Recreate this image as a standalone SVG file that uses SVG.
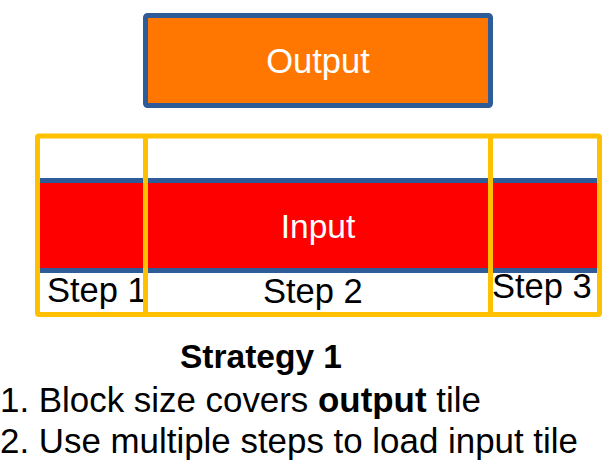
<svg xmlns="http://www.w3.org/2000/svg" width="614" height="474" viewBox="0 0 614 474">
<style>
  text { font-family: "Liberation Sans", Arial, sans-serif; }
  .lbl { font-size: 34.5px; fill: #000; }
  .wlbl { fill: #fff; text-anchor: middle; }
  .frame { fill: none; stroke: #FFC000; stroke-width: 5; }
  .body { font-size: 34.9px; fill: #000; }
</style>
<rect width="614" height="474" fill="#fff"/>
<g id="output">
  <rect x="145.5" y="15.5" width="345" height="90" rx="2" fill="#FF7700" stroke="#2E5C99" stroke-width="5"/>
  <text class="wlbl" x="318" y="73" font-size="34.5">Output</text>
</g>
<g id="input">
  <rect x="37.5" y="180.5" width="562" height="90" fill="#FF0000" stroke="#2E5C99" stroke-width="5"/>
  <text class="wlbl" x="318" y="237.5" font-size="33.5">Input</text>
</g>
<g id="step1">
  <rect class="frame" x="37.5" y="136" width="108" height="178.5" rx="1.5"/>
  <text class="lbl" x="47" y="301.7">Step 1</text>
</g>
<g id="step2">
  <rect class="frame" x="145.5" y="136" width="345" height="178.5" rx="1.5"/>
  <text class="lbl" x="263" y="303">Step 2</text>
</g>
<g id="step3">
  <rect class="frame" x="490.5" y="136" width="109" height="178.5" rx="1.5"/>
  <text class="lbl" x="492" y="298">Step 3</text>
</g>
<g id="caption">
  <text x="180" y="368" font-size="33.5" font-weight="bold" fill="#000">Strategy 1</text>
  <text class="body" x="0" y="411.5">1. Block size covers <tspan font-weight="bold">output</tspan> tile</text>
  <text class="body" x="0" y="452.7">2. Use multiple steps to load input tile</text>
</g>
</svg>
